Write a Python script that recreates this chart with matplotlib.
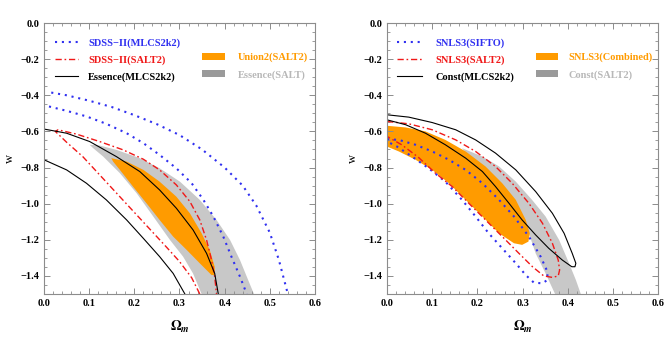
import matplotlib
matplotlib.use('Agg')
import matplotlib.pyplot as plt
from matplotlib.patches import Patch
from matplotlib.lines import Line2D
from matplotlib.ticker import MultipleLocator

# ---- left panel data (Omega_m, w) ----
L_blue_out_x = [0.016, 0.05, 0.10, 0.15, 0.20, 0.25, 0.30, 0.35, 0.40, 0.44, 0.47, 0.50, 0.52, 0.54]
L_blue_out_y = [-0.385, -0.40, -0.43, -0.465, -0.51, -0.56, -0.62, -0.70, -0.80, -0.90, -1.01, -1.16, -1.31, -1.50]
L_blue_in_x = [0.011, 0.05, 0.094, 0.138, 0.183, 0.220, 0.256, 0.293, 0.327, 0.353, 0.375, 0.397, 0.415, 0.434, 0.449]
L_blue_in_y = [-0.462, -0.486, -0.517, -0.558, -0.610, -0.665, -0.730, -0.804, -0.887, -0.979, -1.071, -1.182, -1.293, -1.404, -1.50]

L_red_x = [0.345, 0.327, 0.30, 0.271, 0.234, 0.197, 0.16, 0.123, 0.086, 0.05, 0.025,
           0.031, 0.072, 0.123, 0.175, 0.220, 0.256, 0.293, 0.323, 0.345, 0.360, 0.371, 0.378, 0.382]
L_red_y = [-1.50, -1.41, -1.32, -1.24, -1.14, -1.04, -0.94, -0.84, -0.74, -0.66, -0.60,
           -0.591, -0.615, -0.656, -0.702, -0.754, -0.813, -0.896, -0.988, -1.090, -1.201, -1.312, -1.404, -1.50]

L_black_up_x = [0.0, 0.05, 0.101, 0.16, 0.212, 0.256, 0.293, 0.330, 0.360, 0.378, 0.386]
L_black_up_y = [-0.587, -0.61, -0.656, -0.739, -0.822, -0.924, -1.025, -1.145, -1.275, -1.386, -1.50]
L_black_lo_x = [0.0, 0.05, 0.094, 0.138, 0.183, 0.220, 0.256, 0.286, 0.312]
L_black_lo_y = [-0.757, -0.813, -0.887, -0.979, -1.090, -1.192, -1.293, -1.386, -1.50]

L_gray_x = [0.101, 0.123, 0.160, 0.212, 0.256, 0.301, 0.345, 0.382, 0.412, 0.434, 0.452, 0.465,
            0.349, 0.330, 0.308, 0.279, 0.242, 0.205, 0.168, 0.131, 0.109]
L_gray_y = [-0.674, -0.678, -0.702, -0.748, -0.804, -0.878, -0.979, -1.090, -1.201, -1.312, -1.422, -1.50,
            -1.50, -1.386, -1.293, -1.201, -1.071, -0.942, -0.831, -0.739, -0.693]

L_orange_x = [0.149, 0.183, 0.22, 0.256, 0.293, 0.323, 0.349, 0.367, 0.378, 0.378,
              0.371, 0.345, 0.316, 0.286, 0.256, 0.227, 0.197, 0.168, 0.153]
L_orange_y = [-0.748, -0.767, -0.813, -0.878, -0.961, -1.053, -1.164, -1.256, -1.349, -1.395,
              -1.395, -1.330, -1.256, -1.182, -1.090, -0.998, -0.905, -0.813, -0.767]

# ---- right panel data ----
R_orange_x = [0.0, 0.041, 0.085, 0.129, 0.174, 0.218, 0.255, 0.285, 0.307, 0.316, 0.313, 0.299, 0.281,
              0.248, 0.211, 0.174, 0.137, 0.10, 0.063, 0.026, 0.0]
R_orange_y = [-0.569, -0.578, -0.600, -0.647, -0.711, -0.794, -0.887, -0.979, -1.090, -1.164, -1.210, -1.228, -1.219,
              -1.164, -1.071, -0.979, -0.887, -0.813, -0.757, -0.711, -0.684]

R_gray_x = [0.166, 0.211, 0.248, 0.285, 0.321, 0.351, 0.381, 0.403, 0.418, 0.429,
            0.372, 0.351, 0.329, 0.314, 0.292, 0.248, 0.196]
R_gray_y = [-0.693, -0.739, -0.794, -0.878, -0.979, -1.071, -1.201, -1.330, -1.422, -1.50,
            -1.50, -1.386, -1.275, -1.164, -1.053, -0.905, -0.776]

R_blue_x = [0.0, 0.026, 0.063, 0.10, 0.137, 0.174, 0.211, 0.248, 0.281, 0.314, 0.340, 0.355, 0.355,
            0.344, 0.325, 0.307, 0.285, 0.255, 0.225, 0.196, 0.166, 0.129, 0.092, 0.055, 0.022, 0.004]
R_blue_y = [-0.643, -0.647, -0.674, -0.711, -0.757, -0.813, -0.887, -0.979, -1.071, -1.182, -1.293, -1.376, -1.422,
            -1.441, -1.437, -1.395, -1.330, -1.247, -1.164, -1.071, -0.979, -0.878, -0.804, -0.739, -0.684, -0.661]

R_red_x = [0.0, 0.048, 0.10, 0.152, 0.196, 0.240, 0.277, 0.314, 0.344, 0.366, 0.379, 0.382, 0.379,
           0.366, 0.347, 0.322, 0.292, 0.255, 0.218, 0.181, 0.144, 0.107, 0.070, 0.033, 0.0]
R_red_y = [-0.545, -0.558, -0.591, -0.647, -0.711, -0.794, -0.887, -0.998, -1.108, -1.219, -1.312, -1.367, -1.400,
           -1.408, -1.400, -1.349, -1.275, -1.182, -1.090, -0.998, -0.905, -0.831, -0.745, -0.675, -0.628]

R_black_x = [0.0, 0.048, 0.10, 0.152, 0.196, 0.240, 0.285, 0.329, 0.366, 0.392, 0.410, 0.418, 0.416,
             0.409, 0.388, 0.358, 0.329, 0.299, 0.270, 0.240, 0.211, 0.174, 0.129, 0.085, 0.041, 0.0]
R_black_y = [-0.508, -0.521, -0.551, -0.591, -0.647, -0.720, -0.813, -0.933, -1.053, -1.164, -1.275, -1.330, -1.349,
             -1.349, -1.312, -1.247, -1.173, -1.090, -0.998, -0.905, -0.822, -0.748, -0.674, -0.610, -0.563, -0.536]

left_labels = ['SDSS\u2212II(MLCS2k2)', 'SDSS\u2212II(SALT2)', 'Essence(MLCS2k2)']
left_fill_labels = ['Union2(SALT2)', 'Essence(SALT)']
right_labels = ['SNLS3(SIFTO)', 'SNLS3(SALT2)', 'Const(MLCS2k2)']
right_fill_labels = ['SNLS3(Combined)', 'Const(SALT2)']

BLUE = '#3030f0'
RED = '#f01818'
ORANGE = '#ff9b00'
GRAY = '#c8c8c8'
GRAY_KEY = '#9a9a9a'
GRAY_TXT = '#b8b8b8'
FRAME = '#8c8c8c'

plt.rcParams['font.family'] = ['Liberation Serif', 'DejaVu Serif']
plt.rcParams['font.weight'] = 'bold'
plt.rcParams['mathtext.fontset'] = 'stix'

dotted = dict(color=BLUE, lw=1.5, linestyle=(0, (1, 2.3)))
dashdot = dict(color=RED, lw=1.0, linestyle=(0, (4.5, 2, 1.2, 2)))
solid = dict(color='black', lw=0.8)


def style_axes(ax):
    ax.set_xlim(0, 0.6)
    ax.set_ylim(-1.5, 0)
    ax.xaxis.set_major_locator(MultipleLocator(0.1))
    ax.xaxis.set_minor_locator(MultipleLocator(0.02))
    ax.yaxis.set_major_locator(MultipleLocator(0.2))
    ax.yaxis.set_minor_locator(MultipleLocator(0.05))
    ax.tick_params(which='both', direction='in', top=True, right=True, color=FRAME, labelsize=7.5)
    ax.tick_params(which='major', length=4, width=0.7)
    ax.tick_params(which='minor', length=2, width=0.6)
    for s in ax.spines.values():
        s.set_color(FRAME)
        s.set_linewidth(0.8)
    ax.set_xticklabels([f'{v:.1f}' for v in ax.get_xticks()])
    ax.set_yticklabels([f'{v:.1f}'.replace('-', '\u2212') for v in ax.get_yticks()])
    ax.set_xlabel(r'$\Omega_m$', fontsize=10, labelpad=8)
    ax.set_ylabel('w', fontsize=9, rotation=90, labelpad=3)


def add_legends(ax, labels, fill_labels, h1, p1, h2, p2):
    handles = [Line2D([], [], **dotted), Line2D([], [], **dashdot), Line2D([], [], **solid)]
    leg = ax.legend(handles, labels, loc='upper left', bbox_to_anchor=h1, frameon=False,
                    fontsize=7.5, handlelength=p1[0], handletextpad=p1[1], labelspacing=0.72,
                    borderpad=0, borderaxespad=0, labelcolor=[BLUE, RED, 'black'])
    ax.add_artist(leg)
    patches = [Patch(facecolor=ORANGE, edgecolor='none'), Patch(facecolor=GRAY_KEY, edgecolor='none')]
    ax.legend(patches, fill_labels, loc='upper left', bbox_to_anchor=h2, frameon=False,
              fontsize=7.5, handlelength=p2[0], handletextpad=p2[1], labelspacing=0.72,
              handleheight=0.7, borderpad=0, borderaxespad=0, labelcolor=[ORANGE, GRAY_TXT])


fig = plt.figure(figsize=(6.64, 3.47), dpi=100)
ax1 = fig.add_axes([0.0663, 0.1527, 0.408, 0.781])
ax2 = fig.add_axes([0.583, 0.1527, 0.408, 0.781])

# left panel
ax1.fill(L_gray_x, L_gray_y, color=GRAY, lw=0)
ax1.fill(L_orange_x, L_orange_y, color=ORANGE, lw=0)
ax1.plot(L_blue_out_x, L_blue_out_y, **dotted)
ax1.plot(L_blue_in_x, L_blue_in_y, **dotted)
ax1.plot(L_red_x, L_red_y, **dashdot)
ax1.plot(L_black_up_x, L_black_up_y, **solid)
ax1.plot(L_black_lo_x, L_black_lo_y, **solid)
style_axes(ax1)
add_legends(ax1, left_labels, left_fill_labels, (0.04, 0.945), (2.2, 1.0), (0.583, 0.89), (2.2, 1.2))

# right panel
ax2.fill(R_gray_x, R_gray_y, color=GRAY, lw=0)
ax2.fill(R_orange_x, R_orange_y, color=ORANGE, lw=0)
ax2.plot(R_blue_x, R_blue_y, **dotted)
ax2.plot(R_red_x, R_red_y, **dashdot)
ax2.plot(R_black_x, R_black_y, **solid)
style_axes(ax2)
add_legends(ax2, right_labels, right_fill_labels, (0.037, 0.945), (2.4, 1.25), (0.548, 0.89), (2.2, 1.0))

fig.savefig('out.png', dpi=100)
